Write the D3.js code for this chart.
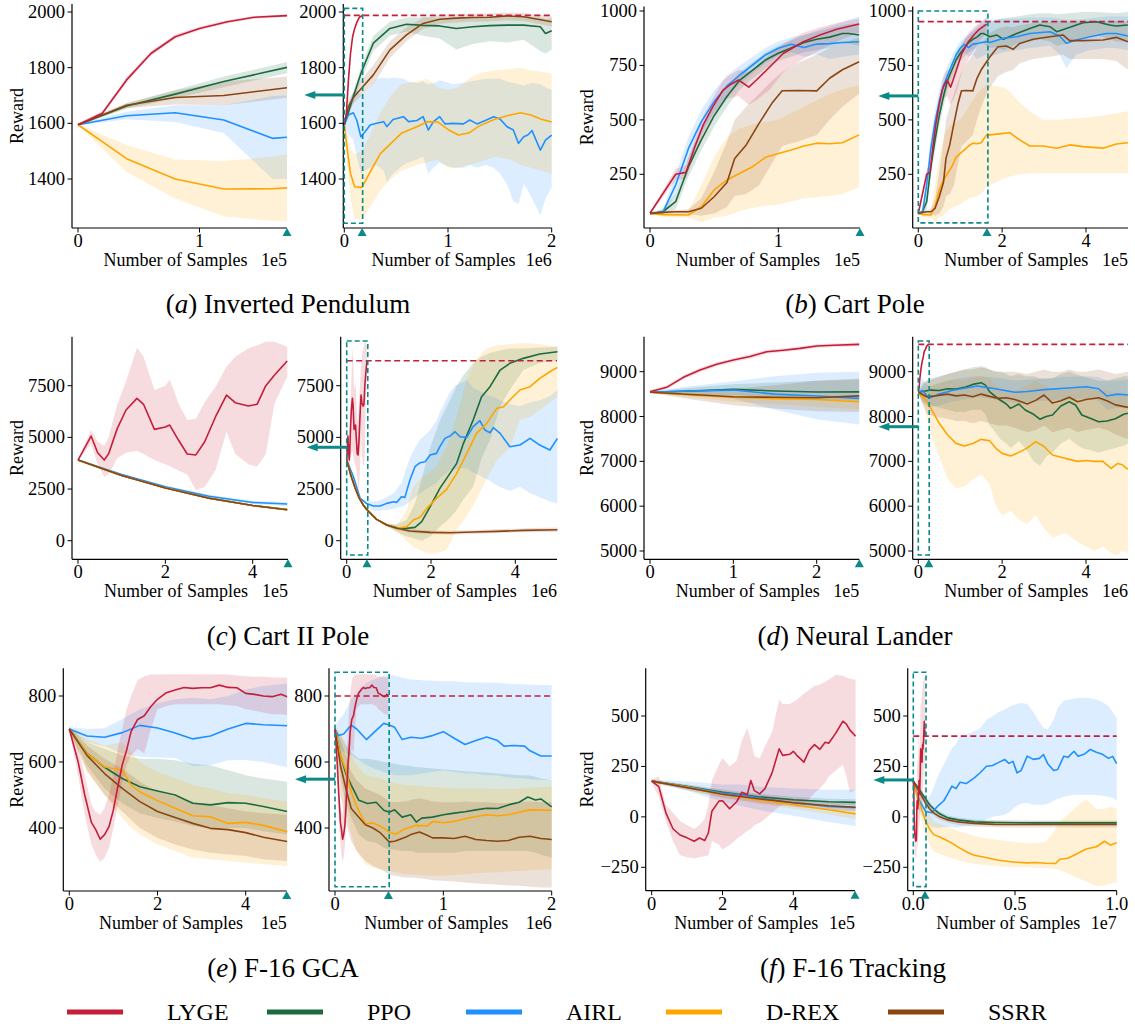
<!DOCTYPE html>
<html><head><meta charset="utf-8">
<script src="https://cdnjs.cloudflare.com/ajax/libs/d3/7.8.5/d3.min.js"></script>
<style>
body{margin:0;background:#fff}
svg{display:block}
text{font-family:"Liberation Serif","Times New Roman",serif;fill:#000}
</style>
</head><body>
<svg id="chart" width="1135" height="1028"></svg>
<script>
// ---------------- categories / series ----------------
const methods = ["LYGE","PPO","AIRL","D-REX","SSRR"];
const methodColors = {"LYGE":"#c41e3a","PPO":"#1b6b3f","AIRL":"#1e90ff","D-REX":"#ffa500","SSRR":"#8b4513"};
const subtitles = [["a","Inverted Pendulum"],["b","Cart Pole"],["c","Cart II Pole"],["d","Neural Lander"],["e","F-16 GCA"],["f","F-16 Tracking"]];

// each point: [x, mean, low, high]
// (a) Inverted Pendulum — zoomed (x in 1e5)
const pendZ_LYGE = [[0,1595,1590,1600],[0.2,1636,1628,1644],[0.4,1756,1746,1766],[0.6,1851,1842,1860],[0.8,1911,1903,1919],[1.0,1941,1934,1948],[1.23,1965,1959,1971],[1.45,1981,1976,1986],[1.72,1987,1982,1992]];
const pendZ_PPO = [[0,1595,1592,1598],[0.4,1662,1652,1672],[0.8,1705,1690,1720],[1.2,1750,1730,1768],[1.72,1801,1780,1820]];
const pendZ_AIRL = [[0,1595,1592,1598],[0.4,1627,1615,1642],[0.8,1638,1605,1665],[1.2,1612,1565,1665],[1.6,1546,1400,1698],[1.72,1550,1400,1700]];
const pendZ_DREX = [[0,1595,1592,1598],[0.4,1473,1425,1522],[0.8,1400,1330,1470],[1.2,1364,1265,1465],[1.6,1365,1250,1480],[1.72,1368,1248,1490]];
const pendZ_SSRR = [[0,1595,1592,1598],[0.4,1665,1655,1672],[0.8,1693,1668,1718],[1.2,1700,1665,1750],[1.72,1728,1692,1768]];
// (a) full (x in 1e6)
const pendF_PPO = [[0,1595,1590,1600],[0.04,1640,1625,1655],[0.087,1696,1675,1715],[0.167,1786,1760,1810],[0.28,1888,1860,1915],[0.44,1941,1915,1965],[0.6,1956,1930,1980],[0.76,1952,1915,1982],[0.92,1950,1905,1980],[1.08,1941,1865,1982],[1.24,1947,1885,1980],[1.4,1951,1895,1982],[1.57,1953,1890,1985],[1.73,1953,1900,1985],[1.89,1947,1860,1980],[1.94,1923,1850,1975],[2.0,1933,1865,1978]];
const pendF_AIRL = [[0,1595,1590,1600],[0.04,1630,1560,1690],[0.087,1638,1540,1710],[0.12,1612,1480,1720],[0.16,1552,1420,1700],[0.2,1570,1430,1710],[0.25,1594,1440,1730],[0.31,1600,1450,1760],[0.38,1606,1430,1765],[0.41,1588,1390,1760],[0.47,1614,1420,1765],[0.57,1624,1450,1760],[0.62,1606,1460,1750],[0.7,1610,1470,1745],[0.76,1624,1480,1750],[0.81,1576,1420,1740],[0.86,1606,1440,1745],[0.92,1624,1460,1755],[0.97,1598,1450,1750],[1.05,1600,1440,1740],[1.15,1598,1440,1745],[1.21,1612,1450,1750],[1.28,1598,1440,1755],[1.37,1612,1450,1760],[1.44,1624,1440,1760],[1.5,1616,1420,1760],[1.57,1588,1380,1750],[1.63,1576,1320,1745],[1.68,1528,1310,1740],[1.73,1552,1380,1735],[1.77,1558,1360,1740],[1.81,1574,1330,1745],[1.89,1504,1270,1740],[1.94,1540,1330,1730],[2.0,1558,1370,1720]];
const pendF_DREX = [[0,1595,1590,1600],[0.03,1500,1440,1560],[0.06,1420,1330,1510],[0.1,1372,1260,1490],[0.17,1370,1250,1500],[0.25,1426,1300,1560],[0.35,1492,1360,1640],[0.45,1528,1400,1700],[0.55,1564,1430,1740],[0.7,1588,1450,1750],[0.8,1606,1460,1760],[0.9,1605,1470,1730],[1.0,1578,1440,1720],[1.1,1558,1440,1730],[1.2,1565,1450,1760],[1.3,1590,1460,1780],[1.45,1615,1480,1790],[1.6,1630,1470,1795],[1.7,1638,1450,1800],[1.8,1630,1440,1790],[1.9,1615,1430,1785],[2.0,1605,1420,1780]];
const pendF_SSRR = [[0,1595,1590,1600],[0.04,1660,1645,1675],[0.087,1693,1670,1712],[0.17,1728,1700,1760],[0.28,1774,1740,1810],[0.44,1864,1835,1895],[0.6,1918,1895,1945],[0.76,1959,1940,1980],[0.92,1974,1958,1990],[1.08,1978,1962,1993],[1.24,1980,1965,1995],[1.4,1981,1966,1995],[1.57,1986,1970,1998],[1.73,1983,1968,1996],[2.0,1965,1948,1985]];

// (b) Cart Pole — zoomed (x in 1e5)
const cartZ_LYGE = [[0,71,65,77],[0.2,250,225,275],[0.28,259,230,290],[0.35,377,340,410],[0.415,477,440,515],[0.49,561,520,600],[0.57,637,590,680],[0.62,660,600,705],[0.69,683,610,730],[0.77,650,570,720],[0.83,683,590,745],[0.935,744,640,800],[1.04,806,720,850],[1.195,859,780,900],[1.325,890,820,925],[1.455,916,860,945],[1.63,940,900,965]];
const cartZ_PPO = [[0,70,65,75],[0.1,78,68,90],[0.2,124,90,160],[0.3,285,240,330],[0.4,408,360,455],[0.5,519,470,565],[0.6,607,560,650],[0.7,683,640,720],[0.8,729,690,765],[0.9,775,735,810],[1.0,806,770,840],[1.1,830,790,865],[1.2,855,810,890],[1.3,870,820,905],[1.4,880,830,920],[1.5,897,850,935],[1.55,897,850,940],[1.63,890,840,945]];
const cartZ_AIRL = [[0,70,65,75],[0.1,75,65,90],[0.2,201,160,250],[0.3,369,320,420],[0.4,492,440,545],[0.5,584,535,635],[0.6,656,610,705],[0.7,706,665,750],[0.8,752,715,790],[0.9,798,760,830],[1.0,829,795,860],[1.1,847,810,880],[1.2,832,790,890],[1.3,848,800,910],[1.4,850,780,930],[1.5,855,790,950],[1.63,859,800,975]];
const cartZ_DREX = [[0,70,65,75],[0.1,65,55,75],[0.3,63,50,85],[0.4,101,30,200],[0.5,178,50,330],[0.6,224,60,420],[0.7,255,80,460],[0.8,285,95,480],[0.9,328,105,490],[1.0,346,110,500],[1.1,362,125,530],[1.2,380,140,560],[1.3,393,145,590],[1.4,390,150,620],[1.5,395,160,640],[1.63,431,190,660]];
const cartZ_SSRR = [[0,70,65,75],[0.1,75,68,82],[0.2,78,70,86],[0.3,78,68,90],[0.4,94,60,140],[0.5,147,70,260],[0.6,212,100,400],[0.66,323,150,500],[0.75,385,160,560],[0.85,484,200,620],[0.95,576,300,680],[1.03,634,380,720],[1.15,635,400,760],[1.3,633,430,800],[1.4,691,500,830],[1.5,730,560,850],[1.63,767,620,880]];
// (b) continuation after the zoomed window (x in 1e5)
const cartF_PPO_tail = [[1.71,882,830,950],[1.87,890,835,960],[2.03,870,820,965],[2.35,897,850,975],[2.66,920,860,985],[2.9,936,870,990],[3.14,928,860,990],[3.3,905,840,985],[3.53,920,850,988],[3.93,946,880,995],[4.25,951,890,995],[4.56,936,870,992],[4.72,931,860,990],[5.0,936,860,995]];
const cartF_AIRL_tail = [[1.71,855,790,960],[2.03,875,810,965],[2.35,882,820,965],[2.66,897,830,970],[3.14,905,840,970],[3.37,885,800,965],[3.53,852,737,960],[3.77,867,800,960],[4.09,882,820,965],[4.48,897,830,975],[4.72,897,830,975],[5.0,885,820,975]];
const cartF_DREX_tail = [[1.71,431,200,660],[2.03,438,230,650],[2.18,441,240,630],[2.42,408,250,580],[2.66,380,255,540],[2.98,380,255,500],[3.3,370,255,500],[3.61,385,255,505],[3.93,377,255,510],[4.41,370,255,520],[4.72,389,255,530],[5.0,395,255,540]];
const cartF_SSRR_tail = [[1.71,790,650,900],[1.9,836,700,920],[2.1,839,720,930],[2.26,824,730,925],[2.42,851,760,935],[2.74,870,780,945],[3.14,882,790,950],[3.45,890,800,955],[3.61,864,780,950],[3.93,864,780,950],[4.41,867,780,950],[4.72,879,770,955],[5.0,859,730,950]];

// (c) Cart II Pole — zoomed (x in 1e5)
const cart2Z_LYGE = [[0,3903,3880,3930],[0.3,5065,4700,5355],[0.45,4258,3700,4800],[0.6,3903,3100,4600],[0.7,4200,3200,5000],[0.9,5435,4000,6600],[1.1,6323,4250,7700],[1.35,6887,4350,9350],[1.5,6600,4200,8900],[1.75,5387,3900,7290],[2.0,5500,3700,7500],[2.1,5597,3600,7806],[2.3,4871,3400,6645],[2.5,4194,3200,5839],[2.7,4150,2450,5900],[2.9,4790,2600,6700],[3.15,6000,3420,7452],[3.4,7048,5274,8419],[3.6,6677,4200,8903],[3.9,6516,3700,9300],[4.1,6600,3580,9450],[4.3,7500,4200,9629],[4.5,8016,6645,9629],[4.79,8694,7935,9387]];
const cart2Z_PPO = [[0,3903,3880,3930],[1,3160,3130,3190],[2,2560,2530,2590],[3,2060,2030,2090],[4,1705,1675,1735],[4.79,1505,1475,1535]];
const cart2Z_AIRL = [[0,3903,3880,3930],[1,3200,3160,3240],[2,2613,2560,2670],[3,2150,2080,2220],[4,1850,1770,1930],[4.79,1774,1680,1860]];
const cart2Z_DREX = [[0,3903,3880,3930],[1,3155,3125,3185],[2,2555,2525,2585],[3,2055,2025,2085],[4,1702,1672,1732],[4.79,1502,1472,1532]];
const cart2Z_SSRR = [[0,3903,3880,3930],[1,3150,3120,3180],[2,2550,2520,2580],[3,2050,2020,2080],[4,1700,1670,1730],[4.79,1500,1470,1530]];
// (c) full (x in 1e6)
const cart2F_PPO = [[0,3903,3880,3930],[0.1,3160,3130,3190],[0.2,2560,2530,2590],[0.3,2060,2030,2090],[0.4,1705,1675,1735],[0.48,1505,1465,1545],[0.71,1034,990,1080],[0.95,760,700,820],[1.19,620,420,800],[1.42,597,200,1000],[1.62,645,100,1800],[1.78,919,0,3000],[1.98,1645,200,4500],[2.21,2532,677,5800],[2.45,3258,1100,6800],[2.61,3742,1484,7500],[2.77,4710,2000,8000],[3.0,5840,2613,8600],[3.2,6968,4000,8900],[3.4,7452,4871,9100],[3.64,8258,6500,9200],[3.87,8581,7290,9300],[4.19,8823,8258,9300],[4.58,9032,8600,9350],[5.0,9145,8742,9387]];
const cart2F_AIRL = [[0,3903,3880,3930],[0.16,3097,3020,3170],[0.32,2048,1970,2130],[0.47,1806,1700,1900],[0.63,1677,1450,1900],[0.79,1677,1450,1950],[0.95,1806,1500,2100],[1.11,1887,1550,2300],[1.19,1855,1600,2500],[1.3,2129,1650,2800],[1.38,2097,1700,3300],[1.5,2935,1900,4000],[1.62,3581,2100,4500],[1.74,3774,2300,4900],[1.86,3823,2450,5100],[1.98,4145,2613,5355],[2.13,4226,2800,5800],[2.21,4548,3000,6200],[2.33,4952,3200,6700],[2.45,5065,3419,7200],[2.57,5274,3450,7500],[2.69,5032,3500,7613],[2.85,5000,3500,7774],[3.0,5516,3300,7400],[3.16,5806,3150,7250],[3.28,5355,3000,7100],[3.4,5226,2900,7000],[3.48,5468,2774,6968],[3.64,5194,2600,6800],[3.87,4548,2400,6600],[4.11,4629,2613,6500],[4.35,4952,2300,6700],[4.58,4629,2100,6800],[4.82,4387,1900,7000],[5.0,4952,1806,7290]];
const cart2F_DREX = [[0,3903,3880,3930],[0.1,3155,3125,3185],[0.2,2555,2525,2585],[0.3,2055,2025,2085],[0.4,1702,1672,1732],[0.48,1502,1462,1542],[0.71,1034,990,1080],[0.95,760,700,820],[1.19,598,450,750],[1.42,677,0,1500],[1.58,1000,-300,2600],[1.74,1129,-450,3000],[1.9,1565,-600,3200],[2.13,2048,-613,3600],[2.37,2484,-450,4500],[2.61,3258,516,6000],[2.85,4226,1200,7800],[3.08,5194,2000,8800],[3.32,5677,3000,9300],[3.56,6403,3903,9450],[3.72,6484,4200,9480],[3.87,6806,4500,9500],[4.11,7290,5840,9550],[4.35,7452,6000,9550],[4.58,7855,6323,9500],[4.82,8177,6700,9450],[5.0,8387,6968,9400]];
const cart2F_SSRR = [[0,3903,3880,3930],[0.1,3150,3120,3180],[0.2,2550,2520,2580],[0.3,2050,2020,2080],[0.4,1700,1670,1730],[0.48,1500,1460,1540],[0.71,1034,990,1080],[0.95,760,700,820],[1.19,598,530,670],[1.5,469,380,560],[1.98,404,320,490],[2.45,388,300,480],[3.0,420,330,510],[3.56,452,360,550],[4.19,500,410,600],[5.0,530,420,640]];

// (d) Neural Lander — zoomed (x in 1e5)
const landZ_LYGE = [[0,8554,8520,8590],[0.2,8651,8610,8690],[0.4,8874,8830,8920],[0.6,9037,8990,9080],[0.8,9164,9120,9210],[1.0,9260,9210,9300],[1.2,9340,9290,9390],[1.4,9446,9400,9490],[1.6,9480,9440,9520],[1.8,9520,9480,9560],[2.0,9572,9530,9610],[2.2,9590,9550,9630],[2.51,9610,9570,9650]];
const landZ_PPO = [[0,8540,8530,8550],[0.5,8570,8480,8640],[1.0,8606,8480,8720],[1.5,8570,8420,8760],[2.0,8546,8380,8800],[2.51,8550,8350,8820]];
const landZ_AIRL = [[0,8540,8530,8550],[0.5,8570,8450,8680],[1.0,8590,8400,8780],[1.5,8500,8150,8900],[2.0,8457,7937,8978],[2.51,8405,7820,9000]];
const landZ_DREX = [[0,8540,8530,8550],[0.5,8480,8420,8540],[1.0,8430,8330,8520],[1.5,8400,8280,8500],[2.0,8380,8220,8480],[2.51,8331,8150,8450]];
const landZ_SSRR = [[0,8540,8530,8550],[0.5,8490,8380,8600],[1.0,8442,8250,8620],[1.5,8430,8180,8700],[2.0,8420,8120,8800],[2.51,8460,8100,8850]];
// (d) full (x in 1e6)
const landF_PPO = [[0,8540,8520,8560],[0.1,8560,8350,8750],[0.3,8590,8250,8850],[0.5,8580,8200,8900],[0.7,8620,8150,8950],[0.9,8613,8100,9000],[1.1,8650,8100,9050],[1.3,8717,8150,9100],[1.5,8755,8150,9120],[1.6,8700,8050,9100],[1.7,8554,7800,9050],[1.8,8480,7700,9000],[1.95,8368,7500,9000],[2.1,8279,7400,8950],[2.2,8182,7300,8900],[2.4,8280,7450,8950],[2.55,8145,7300,8900],[2.75,8050,7000,8900],[2.9,7941,6900,8850],[3.05,8000,7100,8850],[3.2,8034,7200,8850],[3.4,8234,7400,8950],[3.6,8331,7500,9000],[3.75,8257,7400,8950],[3.9,8034,7300,8900],[4.1,7960,7250,8850],[4.3,7885,7200,8800],[4.5,7900,7250,8800],[4.7,7950,7300,8850],[4.9,8050,7350,8900],[5.0,8071,7400,8900]];
const landF_AIRL = [[0,8540,8520,8560],[0.1,8580,8300,8850],[0.25,8405,8200,8650],[0.5,8500,8250,8750],[0.8,8580,8330,8820],[1.1,8630,8380,8870],[1.4,8680,8430,8900],[1.7,8640,8400,8880],[2.0,8590,8350,8850],[2.3,8540,8300,8800],[2.6,8560,8320,8820],[3.0,8600,8350,8850],[3.5,8630,8380,8880],[4.0,8665,8400,8900],[4.3,8620,8350,8880],[4.5,8457,8150,8800],[4.75,8500,8200,8800],[5.0,8480,8200,8820]];
const landF_DREX = [[0,8540,8520,8560],[0.15,8400,8200,8600],[0.3,8182,7600,8700],[0.5,7848,7100,8750],[0.7,7587,6600,8800],[0.9,7401,6400,8800],[1.1,7342,6435,8800],[1.3,7400,6600,8850],[1.5,7491,6700,8900],[1.7,7460,6500,8850],[1.85,7290,6000,8700],[2.0,7178,5800,8600],[2.2,7120,5900,8550],[2.4,7200,5700,8600],[2.6,7300,5600,8700],[2.8,7439,5800,8800],[3.0,7330,5500,8700],[3.2,7141,5300,8600],[3.5,7067,5400,8600],[3.8,7000,5200,8700],[4.0,7020,5100,8650],[4.2,7000,5000,8600],[4.4,7000,5100,8600],[4.6,6844,4950,8550],[4.75,6950,4900,8500],[4.85,6930,5000,8500],[5.0,6820,4950,8450]];
const landF_SSRR = [[0,8540,8520,8560],[0.2,8440,8050,8800],[0.4,8460,8000,8850],[0.7,8500,7950,8950],[0.9,8460,7900,9000],[1.1,8480,7900,9050],[1.3,8440,7850,9050],[1.5,8500,7900,9100],[1.7,8450,7850,9050],[1.9,8405,7800,9000],[2.1,8420,7800,9000],[2.3,8380,7750,9000],[2.6,8279,7650,8950],[2.8,8360,7700,9000],[3.0,8480,7800,9050],[3.2,8300,7650,9000],[3.4,8350,7700,9000],[3.6,8430,7750,9050],[3.8,8330,7650,9000],[4.0,8380,7700,9000],[4.3,8420,7750,9050],[4.5,8350,7700,9000],[4.7,8260,7600,8950],[5.0,8204,7500,9000]];

// (e) F-16 GCA — zoomed (x in 1e5)
const gcaZ_LYGE = [[0,700,695,705],[0.2,601,560,640],[0.35,500,440,560],[0.5,417,350,470],[0.6,395,320,450],[0.7,366,298,440],[0.8,380,310,460],[0.9,404,340,500],[1.0,455,400,560],[1.1,525,470,640],[1.2,591,540,700],[1.3,636,590,760],[1.4,692,620,800],[1.55,729,640,848],[1.7,740,626,860],[1.85,768,700,865],[2.0,790,760,865],[2.2,810,770,866],[2.4,818,775,866],[2.6,826,775,866],[2.8,823,775,866],[3.0,825,775,865],[3.2,825,775,865],[3.4,833,775,866],[3.6,826,772,865],[3.8,825,770,862],[4.0,808,760,860],[4.2,805,755,858],[4.4,800,750,858],[4.6,798,745,856],[4.8,805,745,856],[4.94,798,742,855]];
const gcaZ_PPO = [[0,700,695,705],[0.4,626,590,660],[0.8,584,520,640],[1.2,550,475,620],[1.6,525,445,610],[2.0,512,430,610],[2.4,500,420,605],[2.8,475,405,595],[3.2,470,400,590],[3.6,477,400,575],[4.0,475,400,560],[4.4,465,390,550],[4.94,450,380,540]];
const gcaZ_AIRL = [[0,700,695,705],[0.4,679,660,700],[0.8,675,648,702],[1.2,689,625,730],[1.6,711,616,760],[2.0,703,614,778],[2.4,688,612,790],[2.8,670,588,795],[3.2,679,590,790],[3.6,700,605,800],[4.0,717,606,820],[4.4,713,600,830],[4.94,710,584,838]];
const gcaZ_DREX = [[0,700,695,705],[0.4,625,570,670],[0.8,585,500,650],[1.2,576,430,660],[1.4,530,400,630],[1.6,510,380,600],[2.0,483,350,570],[2.4,460,330,550],[2.8,437,310,530],[3.2,434,305,520],[3.6,414,300,505],[4.0,417,295,500],[4.4,408,290,490],[4.94,389,285,480]];
const gcaZ_SSRR = [[0,700,695,705],[0.4,620,575,650],[0.8,565,500,610],[1.2,520,450,580],[1.6,480,400,540],[2.0,450,370,510],[2.4,432,350,495],[2.8,414,335,480],[3.2,399,325,470],[3.6,395,320,460],[4.0,386,315,450],[4.4,372,305,445],[4.94,359,300,440]];
// (e) full (x in 1e6)
const gcaF_PPO = [[0,700,695,705],[0.05,620,560,680],[0.1,565,480,650],[0.15,530,430,630],[0.22,484,380,610],[0.3,474,360,610],[0.38,478,355,605],[0.45,454,340,600],[0.5,448,335,598],[0.55,455,335,595],[0.62,433,330,590],[0.7,440,330,588],[0.75,418,325,585],[0.8,430,325,583],[0.9,433,325,580],[1.0,440,325,578],[1.1,445,325,575],[1.2,449,330,572],[1.3,455,330,570],[1.4,460,330,568],[1.5,459,330,565],[1.6,470,330,563],[1.7,478,330,560],[1.78,494,330,560],[1.85,485,325,555],[1.9,488,320,550],[2.0,464,310,545]];
const gcaF_AIRL = [[0,700,695,705],[0.03,680,640,725],[0.08,685,630,745],[0.15,712,620,790],[0.2,700,610,810],[0.29,668,590,840],[0.36,690,580,850],[0.45,717,570,862],[0.5,712,565,864],[0.55,705,560,862],[0.62,668,560,855],[0.7,675,560,850],[0.8,672,565,848],[0.9,680,570,846],[1.0,692,575,845],[1.1,672,570,845],[1.2,653,565,842],[1.3,665,565,842],[1.4,676,560,840],[1.5,665,560,840],[1.56,648,555,838],[1.65,650,552,836],[1.75,648,550,835],[1.8,634,548,834],[1.9,618,546,833],[2.0,618,545,833]];
const gcaF_DREX = [[0,700,695,705],[0.05,620,540,690],[0.1,575,460,660],[0.15,510,380,620],[0.2,465,330,590],[0.28,413,290,560],[0.35,415,280,555],[0.42,405,275,550],[0.5,388,270,540],[0.56,381,265,535],[0.65,398,260,530],[0.75,408,258,528],[0.85,406,255,525],[0.9,420,255,525],[1.0,416,255,522],[1.1,420,258,520],[1.2,428,260,520],[1.3,435,262,520],[1.4,440,265,520],[1.5,437,265,518],[1.6,440,268,518],[1.7,448,270,520],[1.8,455,272,522],[2.0,454,275,525]];
const gcaF_SSRR = [[0,700,695,705],[0.05,590,500,670],[0.1,520,420,620],[0.15,459,360,570],[0.2,440,330,545],[0.28,410,300,520],[0.35,400,285,510],[0.42,385,275,500],[0.5,358,260,480],[0.55,360,255,478],[0.65,372,250,480],[0.7,380,250,485],[0.78,388,248,490],[0.85,378,245,485],[0.9,370,242,480],[1.0,370,240,478],[1.1,368,238,478],[1.2,375,235,480],[1.3,365,232,478],[1.4,362,230,478],[1.5,360,228,476],[1.6,362,226,476],[1.7,372,225,478],[1.8,375,222,480],[1.9,368,220,478],[2.0,365,220,478]];

// (f) F-16 Tracking — zoomed (x in 1e5)
const trackZ_LYGE = [[0,177,170,185],[0.2,150,100,200],[0.4,20,-20,60],[0.6,-59,-120,20],[0.8,-90,-190,-20],[1.0,-104,-200,-40],[1.2,-121,-206,-60],[1.35,-105,-200,-40],[1.5,-117,-195,-10],[1.6,-80,-190,60],[1.7,28,-120,180],[1.9,78,-140,260],[2.0,80,-162,292],[2.2,40,-140,250],[2.4,75,-110,280],[2.55,122,-90,380],[2.7,110,-70,441],[2.8,180,-60,380],[2.9,130,-40,300],[3.05,114,-30,290],[3.2,140,-10,350],[3.4,218,20,420],[3.6,337,50,581],[3.7,305,60,560],[3.9,310,70,560],[4.0,325,60,570],[4.1,305,50,580],[4.3,271,60,610],[4.45,330,90,630],[4.6,358,120,650],[4.75,335,140,655],[4.9,370,170,670],[5.0,365,200,680],[5.2,415,230,705],[5.4,474,259,700],[5.5,460,200,690],[5.6,430,120,685],[5.76,400,135,680]];
const trackZ_PPO = [[0,177,172,182],[1,150,140,160],[2,122,108,136],[3,100,85,115],[4,85,70,100],[5,75,60,90],[5.76,72,57,87]];
const trackZ_AIRL = [[0,177,170,185],[1,150,130,175],[2,118,75,160],[2.5,110,55,160],[3,95,35,150],[4,70,5,140],[5,52,-25,135],[5.76,46,-45,135]];
const trackZ_DREX = [[0,177,172,182],[1,148,135,160],[2,112,95,130],[3,85,65,105],[4,60,40,80],[5,35,12,58],[5.76,15,-10,40]];
const trackZ_SSRR = [[0,177,172,182],[1,145,133,157],[2,112,95,128],[3,90,70,110],[4,70,50,90],[5,55,35,75],[5.76,48,28,68]];
// (f) full (x in 1e7)
const trackF_PPO = [[0,177,172,182],[0.02,150,140,160],[0.04,120,108,132],[0.06,90,78,102],[0.08,60,48,72],[0.1,40,28,52],[0.13,15,3,27],[0.17,-5,-17,7],[0.22,-15,-27,-3],[0.3,-25,-37,-13],[0.4,-28,-40,-16],[0.6,-30,-42,-18],[0.8,-30,-42,-18],[1.0,-30,-42,-18]];
const trackF_AIRL = [[0,177,170,185],[0.01,140,110,170],[0.03,80,30,130],[0.06,28,-20,70],[0.09,20,-50,120],[0.12,53,-55,200],[0.15,80,-50,260],[0.17,115,-50,300],[0.19,152,-50,340],[0.21,140,-55,360],[0.23,172,-50,400],[0.26,165,-45,410],[0.3,193,-40,425],[0.33,220,-30,440],[0.36,251,-10,480],[0.39,255,0,500],[0.42,270,5,520],[0.45,284,10,532],[0.47,265,20,545],[0.49,275,40,555],[0.51,218,55,560],[0.53,230,65,565],[0.56,301,69,560],[0.59,285,60,520],[0.62,290,60,470],[0.64,309,60,440],[0.66,265,65,433],[0.69,230,80,480],[0.71,235,90,540],[0.74,301,100,575],[0.76,295,105,581],[0.79,325,110,585],[0.81,300,110,590],[0.84,310,110,590],[0.87,334,110,588],[0.9,320,108,580],[0.93,310,105,570],[0.96,290,100,550],[0.98,300,95,520],[1.0,264,80,490]];
const trackF_DREX = [[0,177,172,182],[0.02,100,60,140],[0.04,40,-20,90],[0.06,-20,-90,40],[0.08,-60,-140,10],[0.1,-88,-170,-20],[0.13,-100,-185,-35],[0.16,-115,-195,-45],[0.19,-130,-205,-55],[0.22,-150,-215,-70],[0.27,-178,-228,-85],[0.3,-190,-232,-95],[0.35,-200,-238,-105],[0.42,-215,-245,-115],[0.5,-225,-250,-125],[0.56,-228,-250,-130],[0.6,-226,-252,-130],[0.65,-230,-255,-125],[0.7,-231,-258,-60],[0.72,-210,-265,-20],[0.76,-205,-280,10],[0.8,-185,-300,50],[0.85,-159,-320,86],[0.9,-148,-344,40],[0.94,-121,-340,40],[0.97,-140,-330,50],[1.0,-128,-325,40]];
const trackF_SSRR = [[0,177,172,182],[0.02,140,128,152],[0.04,105,92,118],[0.06,70,57,83],[0.08,40,27,53],[0.1,20,7,33],[0.13,0,-14,14],[0.17,-15,-29,-1],[0.22,-25,-40,-10],[0.3,-33,-48,-18],[0.4,-37,-52,-22],[0.6,-38,-53,-23],[0.8,-38,-53,-23],[1.0,-38,-53,-23]];

// final LYGE reward level (dashed line) per environment
const finalLYGE = [1988, 951, 8710, 9610, 800, 400];
// tick labels
const yTicksRows = [[1400,1600,1800,2000],[250,500,750,1000],[0,2500,5000,7500],[5000,6000,7000,8000,9000],[400,600,800],[-250,0,250,500]];
const xTicksZoom = [[0,1],[0,1],[0,2,4],[0,1,2],[0,2,4],[0,2,4]];
const xTicksFull = [[0,1,2],[0,2,4],[0,2,4],[0,2,4],[0,1,2],[0,0.5,1.0]];
const xOffsetZoom = ["1e5","1e5","1e5","1e5","1e5","1e5"];
const xOffsetFull = ["1e6","1e5","1e6","1e6","1e6","1e7"];

// ---------------- layout (pixel geometry, not data) ----------------
// x:[v0,px0,v1,px1] y:[v0,px0,v1,px1]; xs spine extent; ys spine extent
const layout = [
 {z:{x:[0,78,1,199.5],xs:[72,287]}, f:{x:[0,344.3,2,551.7],xs:[343.3,551.7]}, y:[1400,179,2000,12], ys:[4,228], ylx:17, k:0.1, box:[0,0.177,1241,2013], arrowV:1702, cx:288, sy:313},
 {z:{x:[0,650,1,778.3],xs:[644,860]}, f:{x:[0,918.3,4,1086],xs:[912.7,1128]}, y:[250,174.3,1000,11], ys:[6.5,228], ylx:587, k:1, box:[0,1.66,27,1000], arrowV:610, cx:855, sy:313},
 {z:{x:[0,78,4,252.7],xs:[72,288]}, f:{x:[0,346.7,4,515.3],xs:[340.7,557]}, y:[0,540.7,7500,385.7], ys:[336.7,559.3], ylx:17, k:0.1, box:[0,0.5,-692,9662], arrowV:4520, cx:288, sy:645},
 {z:{x:[0,650,2,816.7],xs:[644,859.3]}, f:{x:[0,918.3,4,1086],xs:[912.7,1128]}, y:[5000,551,9000,371.7], ys:[336.7,559.3], ylx:587, k:0.1, box:[0,0.26,4911,9685], arrowV:7773, cx:855, sy:645},
 {z:{x:[0,69.3,4,245.7],xs:[63.3,286.7]}, f:{x:[0,335,2,551.7],xs:[329,551.7]}, y:[400,828,800,696], ys:[668.3,891], ylx:17, k:0.1, box:[0,0.5,222,872], arrowV:548, cx:283, sy:977},
 {z:{x:[0,651.7,4,793.3],xs:[645.7,855]}, f:{x:[0,913.3,1,1116.7],xs:[907.7,1116.7]}, y:[-250,867.3,500,716], ys:[668.3,890.7], ylx:587, k:0.01, box:[0,0.0625,-346,717], arrowV:183, cx:853, sy:977}
];

const zoomSeries = [
 {LYGE:pendZ_LYGE,PPO:pendZ_PPO,AIRL:pendZ_AIRL,"D-REX":pendZ_DREX,SSRR:pendZ_SSRR},
 {LYGE:cartZ_LYGE,PPO:cartZ_PPO,AIRL:cartZ_AIRL,"D-REX":cartZ_DREX,SSRR:cartZ_SSRR},
 {LYGE:cart2Z_LYGE,PPO:cart2Z_PPO,AIRL:cart2Z_AIRL,"D-REX":cart2Z_DREX,SSRR:cart2Z_SSRR},
 {LYGE:landZ_LYGE,PPO:landZ_PPO,AIRL:landZ_AIRL,"D-REX":landZ_DREX,SSRR:landZ_SSRR},
 {LYGE:gcaZ_LYGE,PPO:gcaZ_PPO,AIRL:gcaZ_AIRL,"D-REX":gcaZ_DREX,SSRR:gcaZ_SSRR},
 {LYGE:trackZ_LYGE,PPO:trackZ_PPO,AIRL:trackZ_AIRL,"D-REX":trackZ_DREX,SSRR:trackZ_SSRR}
];
const fullSeries = [
 {PPO:pendF_PPO,AIRL:pendF_AIRL,"D-REX":pendF_DREX,SSRR:pendF_SSRR},
 {PPO:cartZ_PPO.concat(cartF_PPO_tail),AIRL:cartZ_AIRL.concat(cartF_AIRL_tail),"D-REX":cartZ_DREX.concat(cartF_DREX_tail),SSRR:cartZ_SSRR.concat(cartF_SSRR_tail)},
 {PPO:cart2F_PPO,AIRL:cart2F_AIRL,"D-REX":cart2F_DREX,SSRR:cart2F_SSRR},
 {PPO:landF_PPO,AIRL:landF_AIRL,"D-REX":landF_DREX,SSRR:landF_SSRR},
 {PPO:gcaF_PPO,AIRL:gcaF_AIRL,"D-REX":gcaF_DREX,SSRR:gcaF_SSRR},
 {PPO:trackF_PPO,AIRL:trackF_AIRL,"D-REX":trackF_DREX,SSRR:trackF_SSRR}
];

const TEAL = "#0b8a87";
const svg = d3.select("#chart");
const fmt = v => (v < 0 ? "\u2212" + Math.abs(v) : String(v));
let clipN = 0;

function makeScale(p){ return d3.scaleLinear().domain([p[0],p[2]]).range([p[1],p[3]]); }

function drawAxes(g, x, y, xs, ys, xt, yt, off, fmtX, ylabelX){
  const left = xs[0], right = xs[1], top = ys[0], bottom = ys[1];
  g.append("line").attr("x1",left).attr("x2",left).attr("y1",top).attr("y2",bottom).attr("stroke","#000").attr("stroke-width",1.2);
  g.append("line").attr("x1",left).attr("x2",right).attr("y1",bottom).attr("y2",bottom).attr("stroke","#000").attr("stroke-width",1.2);
  yt.forEach(v=>{
    g.append("line").attr("x1",left-4.5).attr("x2",left).attr("y1",y(v)).attr("y2",y(v)).attr("stroke","#000").attr("stroke-width",1);
    g.append("text").attr("x",left-7).attr("y",y(v)).attr("text-anchor","end").attr("dominant-baseline","central").attr("font-size",18.5).text(fmt(v));
  });
  xt.forEach(v=>{
    g.append("line").attr("x1",x(v)).attr("x2",x(v)).attr("y1",bottom).attr("y2",bottom+4.5).attr("stroke","#000").attr("stroke-width",1);
    g.append("text").attr("x",x(v)).attr("y",bottom+19).attr("text-anchor","middle").attr("font-size",18.5).text(fmtX(v));
  });
  g.append("text").attr("x",(left+right)/2-4).attr("y",bottom+38).attr("text-anchor","middle").attr("font-size",18).text("Number of Samples");
  g.append("text").attr("x",right).attr("y",bottom+38).attr("text-anchor","end").attr("font-size",18).text(off);
  if(ylabelX!=null){
    g.append("text").attr("transform",`translate(${ylabelX},${(top+bottom)/2}) rotate(-90)`).attr("text-anchor","middle").attr("dominant-baseline","central").attr("font-size",18).text("Reward");
  }
}

function drawSeries(g, x, y, xs, ys, seriesMap, kMap){
  const id = "clip"+(clipN++);
  svg.append("clipPath").attr("id",id).append("rect").attr("x",xs[0]).attr("y",ys[0]-2).attr("width",xs[1]-xs[0]+1).attr("height",ys[1]-ys[0]+2);
  const p = g.append("g").attr("clip-path",`url(#${id})`);
  const order = ["PPO","AIRL","D-REX","SSRR","LYGE"].filter(m=>seriesMap[m]);
  order.forEach(m=>{
    const k = kMap[m]||1;
    const area = d3.area().x(d=>x(d[0]*k)).y0(d=>y(d[2])).y1(d=>y(d[3]));
    p.append("path").datum(seriesMap[m]).attr("d",area).attr("fill",methodColors[m]).attr("fill-opacity",0.16).attr("stroke","none");
  });
  order.forEach(m=>{
    const k = kMap[m]||1;
    const line = d3.line().x(d=>x(d[0]*k)).y(d=>y(d[1]));
    p.append("path").datum(seriesMap[m]).attr("d",line).attr("fill","none").attr("stroke",methodColors[m]).attr("stroke-width",1.6).attr("stroke-linejoin","round");
  });
  return p;
}

function triangle(g, px, py){
  g.append("path").attr("d",`M${px},${py} l4.5,8 l-9,0 Z`).attr("fill",TEAL);
}

layout.forEach((L,i)=>{
  const g = svg.append("g");
  const y = makeScale(L.y);
  // zoomed panel
  const xz = makeScale(L.z.x);
  drawSeries(g, xz, y, L.z.xs, L.ys, zoomSeries[i], {});
  drawAxes(g, xz, y, L.z.xs, L.ys, xTicksZoom[i], yTicksRows[i], xOffsetZoom[i], v=>String(v), L.ylx);
  triangle(g, L.z.xs[1], L.ys[1]);
  const zoomEnd = xz.invert(L.z.xs[1]);

  // full panel
  const xf = makeScale(L.f.x);
  const fs = Object.assign({}, fullSeries[i], {LYGE: zoomSeries[i].LYGE});
  drawSeries(g, xf, y, L.f.xs, L.ys, fs, {LYGE: L.k});
  drawAxes(g, xf, y, L.f.xs, L.ys, xTicksFull[i], yTicksRows[i], xOffsetFull[i], i===5 ? (v=>v.toFixed(1)) : (v=>String(v)), null);
  // dashed final level of LYGE
  g.append("line").attr("x1",xf(0)).attr("x2",L.f.xs[1]).attr("y1",y(finalLYGE[i])).attr("y2",y(finalLYGE[i]))
    .attr("stroke",methodColors.LYGE).attr("stroke-width",1.6).attr("stroke-dasharray","6,3.5");
  // dashed zoom box
  const b = L.box;
  g.append("rect").attr("x",xf(b[0])).attr("y",y(b[3])).attr("width",xf(b[1])-xf(b[0])).attr("height",y(b[2])-y(b[3]))
    .attr("fill","none").attr("stroke",TEAL).attr("stroke-width",1.6).attr("stroke-dasharray","5,3");
  triangle(g, xf(zoomEnd*L.k), L.ys[1]);
  // arrow
  const ax0 = xf(0), ay = y(L.arrowV), ax1 = ax0 - 40;
  g.append("line").attr("x1",ax0).attr("x2",ax1+9).attr("y1",ay).attr("y2",ay).attr("stroke",TEAL).attr("stroke-width",3);
  g.append("path").attr("d",`M${ax1},${ay} l11,-4 l0,8 Z`).attr("fill",TEAL);

  // subtitle
  const t = svg.append("text").attr("x",L.cx).attr("y",L.sy).attr("text-anchor","middle").attr("font-size",27);
  t.append("tspan").text("(");
  t.append("tspan").attr("font-style","italic").text(subtitles[i][0]);
  t.append("tspan").text(") " + subtitles[i][1]);
});

// legend
const legendX = [67, 267, 466, 666, 888];
const lg = svg.append("g");
methods.forEach((m,i)=>{
  lg.append("line").attr("x1",legendX[i]).attr("x2",legendX[i]+56).attr("y1",1012).attr("y2",1012).attr("stroke",methodColors[m]).attr("stroke-width",5);
  lg.append("text").attr("x",legendX[i]+100).attr("y",1012).attr("dominant-baseline","central").attr("font-size",24).text(m);
});
</script>
</body></html>
